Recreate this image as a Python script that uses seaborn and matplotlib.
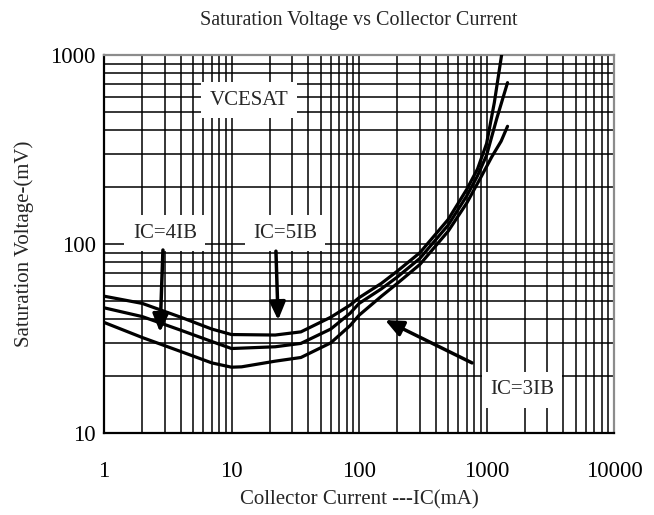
import numpy as np
import pandas as pd
import matplotlib
matplotlib.use("Agg")
import matplotlib.pyplot as plt
import seaborn as sns

# collector current (mA) and saturation voltage (mV)
ic_5ib = [1, 2, 4, 7, 10, 22, 35, 60, 85, 100, 150, 200, 300, 500, 700, 850, 1000, 1150, 1320]
vce_5ib = [53, 48.5, 41, 35.5, 33.2, 33, 34.3, 41, 47.5, 52, 62, 72, 90, 135, 195, 250, 340, 560, 1030]

ic_4ib = [1, 2, 4, 7, 10, 22, 35, 60, 85, 100, 150, 200, 300, 500, 700, 850, 1000, 1200, 1460]
vce_4ib = [46, 41.3, 35, 30.5, 28, 28.6, 29.8, 35.5, 43, 48.5, 58, 67, 84, 126, 180, 230, 295, 460, 715]

ic_3ib = [1, 2, 4, 7, 10, 12, 22, 35, 60, 85, 100, 150, 200, 300, 500, 700, 900, 1100, 1300, 1460]
vce_3ib = [38.5, 32, 27, 23.5, 22.3, 22.4, 24, 25.1, 30, 37, 42, 53, 62, 78, 117, 165, 225, 290, 350, 420]

x_ticks = [1, 10, 100, 1000, 10000]
y_ticks = [10, 100, 1000]

df = pd.concat([
    pd.DataFrame({"ic": ic_5ib, "vce": vce_5ib, "ratio": "IC=5IB"}),
    pd.DataFrame({"ic": ic_4ib, "vce": vce_4ib, "ratio": "IC=4IB"}),
    pd.DataFrame({"ic": ic_3ib, "vce": vce_3ib, "ratio": "IC=3IB"}),
])

sns.set_theme(style="white")
plt.rcParams["font.family"] = ["Liberation Serif", "DejaVu Serif"]

fig = plt.figure(figsize=(6.54, 5.15), dpi=100)
ax = fig.add_axes([0.159, 0.1592, 0.780, 0.7338])

sns.lineplot(data=df, x="ic", y="vce", hue="ratio", units="ratio", estimator=None,
             palette=["black"] * 3, linewidth=2.3, legend=False, sort=False, ax=ax, zorder=3)

ax.set_xscale("log")
ax.set_yscale("log")
ax.set_xlim(1, 10000)
ax.set_ylim(10, 1000)
ax.set_xticks(x_ticks)
ax.set_xticklabels([str(t) for t in x_ticks])
ax.set_yticks(y_ticks)
ax.set_yticklabels([str(t) for t in y_ticks])
ax.minorticks_on()
ax.tick_params(which="both", length=0)
ax.tick_params(axis="x", which="major", pad=20, labelsize=16.5, colors="black")
ax.tick_params(axis="y", which="major", pad=6, labelsize=16.5, colors="black")
ax.grid(True, which="both", color="black", linewidth=1.1)

for side in ["left", "bottom"]:
    ax.spines[side].set_color("black")
for side in ["top", "right"]:
    ax.spines[side].set_color("#8c8c8c")
for s in ax.spines.values():
    s.set_linewidth(1.6)

ax.set_title("Saturation Voltage vs Collector Current", fontsize=14.5, pad=22)
ax.set_xlabel("Collector Current ---IC(mA)", fontsize=15, labelpad=6)
ax.set_ylabel("Saturation Voltage-(mV)", fontsize=15, labelpad=12)

box = dict(boxstyle="square,pad=0.4", fc="white", ec="none")
arrow = dict(arrowstyle="-|>,head_length=0.9,head_width=0.4", color="black",
             lw=2.5, shrinkA=0, shrinkB=0)

ax.text(13.7, 578, "VCESAT", fontsize=15, ha="center", va="center", bbox=box, zorder=4)
ax.text(3.0, 114, "IC=4IB", fontsize=15, ha="center", va="center", bbox=box, zorder=4)
ax.text(26.3, 114, "IC=5IB", fontsize=15, ha="center", va="center", bbox=box, zorder=4)
ax.text(1900, 16.9, "IC=3IB", fontsize=15, ha="center", va="center", bbox=box, zorder=4)

ax.annotate("", xy=(2.75, 34.2), xytext=(2.9, 93), arrowprops=arrow, zorder=5)
ax.annotate("", xy=(23.2, 39.6), xytext=(22.3, 91.7), arrowprops=arrow, zorder=5)
ax.annotate("", xy=(160, 39.6), xytext=(769, 23.5), arrowprops=arrow, zorder=5)

fig.savefig("out.png", dpi=100)
